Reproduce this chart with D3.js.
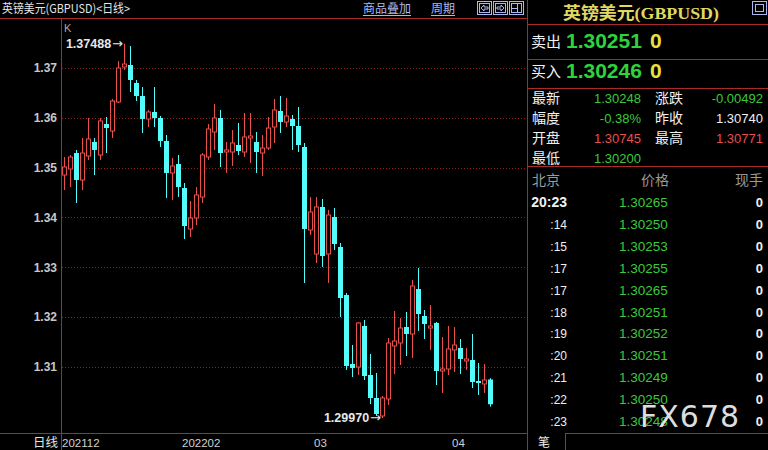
<!DOCTYPE html>
<html><head><meta charset="utf-8">
<script src="https://cdn.jsdelivr.net/npm/d3@7"></script>
<style>html,body{margin:0;padding:0;background:#000;overflow:hidden}svg{display:block}</style>
</head><body>
<svg id="c" width="768" height="450"></svg>
<script>
// ---------- data ----------
const opens = [1.34851,1.34972,1.35293,1.34751,1.35233,1.35514,1.35253,1.35876,1.35735,1.36317,
1.37020,1.37060,1.36699,1.36438,1.35976,1.36117,1.35996,1.35534,1.34892,1.35072,
1.34590,1.33767,1.33988,1.34410,1.35213,1.35715,1.35996,1.35313,1.35313,1.35454,
1.35313,1.35594,1.35514,1.35293,1.35394,1.35815,1.36137,1.35916,1.35976,1.35835,
1.35414,1.33747,1.33265,1.34209,1.33265,1.34008,1.33406,1.32442,1.31056,1.30996,
1.31819,1.30835,1.30374,1.30012,1.30354,1.31418,1.31478,1.31799,1.31659,1.32562,
1.32020,1.31779,1.31880,1.30916,1.30956,1.31338,1.31378,1.31117,1.31137,1.30715,
1.30655,1.30745];
const highs = [1.35213,1.35253,1.35354,1.35594,1.35996,1.35594,1.35996,1.36016,1.36378,1.37141,
1.37488,1.37442,1.36759,1.36618,1.36157,1.36618,1.36036,1.35655,1.35193,1.35253,
1.34691,1.34329,1.34610,1.35293,1.35876,1.36277,1.36157,1.35514,1.35755,1.35896,
1.36096,1.36096,1.35715,1.35655,1.36016,1.36378,1.36438,1.36398,1.36056,1.36217,
1.35494,1.34410,1.34410,1.34370,1.34149,1.34189,1.33486,1.32482,1.31438,1.31900,
1.31940,1.31257,1.30876,1.30414,1.31578,1.32121,1.31980,1.32101,1.32743,1.32984,
1.32141,1.32241,1.31900,1.31598,1.31819,1.31799,1.31558,1.31378,1.31659,1.31076,
1.31056,1.30771];
const lows = [1.34550,1.34610,1.34289,1.34550,1.35153,1.34851,1.35153,1.35293,1.35594,1.36297,
1.36960,1.36518,1.36337,1.35695,1.35815,1.35815,1.35414,1.34390,1.34350,1.34410,
1.33566,1.33606,1.33847,1.34289,1.35153,1.35354,1.35012,1.34892,1.35032,1.35253,
1.35213,1.35092,1.34892,1.34831,1.35354,1.35494,1.35695,1.35815,1.35354,1.35313,
1.32683,1.33647,1.33084,1.33004,1.32683,1.33346,1.32000,1.30936,1.30795,1.30835,
1.30735,1.30253,1.30012,1.29970,1.30233,1.30855,1.31036,1.31217,1.31177,1.31719,
1.31558,1.31338,1.30634,1.30474,1.30835,1.30896,1.30855,1.30936,1.30574,1.30434,
1.30474,1.30200];
const closes = [1.35012,1.35213,1.34751,1.35293,1.35574,1.35354,1.35936,1.35795,1.36337,1.37000,
1.37080,1.36759,1.36438,1.35976,1.36117,1.35996,1.35534,1.34892,1.35032,1.34610,
1.33827,1.33988,1.34450,1.35253,1.35775,1.35996,1.35293,1.35354,1.35494,1.35333,
1.35614,1.35635,1.35313,1.35394,1.35795,1.36157,1.35916,1.36036,1.35835,1.35454,
1.33767,1.34108,1.34209,1.33225,1.34048,1.33466,1.32382,1.31016,1.30976,1.31880,
1.30815,1.30374,1.30052,1.30374,1.31478,1.31518,1.31779,1.31659,1.32623,1.32060,
1.31860,1.31819,1.30916,1.30956,1.31358,1.31438,1.31157,1.31157,1.30695,1.30675,
1.30735,1.30248];
const yTicks = [1.31,1.32,1.33,1.34,1.35,1.36,1.37];
const monthLabels = ["202112","202202","03","04"];
const monthIndex = [0,20,42,65];

const sellPrice = "1.30251", buyPrice = "1.30246";
const quoteLeftLabels = ["最新","幅度","开盘","最低"];
const quoteLeftValues = ["1.30248","-0.38%","1.30745","1.30200"];
const quoteLeftKinds = ["down","down","up","down"];
const quoteRightLabels = ["涨跌","昨收","最高"];
const quoteRightValues = ["-0.00492","1.30740","1.30771"];
const quoteRightKinds = ["down","flat","up"];
const tickTimes = ["20:23",":14",":15",":17",":17",":18",":19",":20",":21",":22",":23"];
const tickPrices = ["1.30265","1.30250","1.30253","1.30255","1.30265","1.30251","1.30252","1.30251","1.30249","1.30250","1.30248"];
const tickVols = ["0","0","0","0","0","0","0","0","0","0","0"];

// ---------- styles ----------
const RED = "#e8504c", CYAN = "#54fcfc", BORDER = "#a82a2a", GRID = "#8a2222";
const GREEN = "#3cc83c", BIGGREEN = "#2ed23a", YELLOW = "#e8e040", LINK = "#aab8f0";
const CJK = "'Noto Sans CJK SC','Noto Sans',sans-serif";
const NUM = "'Liberation Sans',Arial,sans-serif";

const svg = d3.select("#c");
svg.append("rect").attr("width",768).attr("height",450).attr("fill","#000");

const n = opens.length;
const x = d3.scaleLinear().domain([0, n-1]).range([64, 490]);
const y = d3.scaleLinear().domain([1.30, 1.37]).range([416.6, 68]);

// gridlines
svg.append("g").selectAll("line").data(yTicks).join("line")
  .attr("x1",62).attr("x2",527)
  .attr("y1",d=>Math.round(y(d))+0.5).attr("y2",d=>Math.round(y(d))+0.5)
  .attr("stroke",GRID).attr("stroke-dasharray","1,2");

// y axis labels via d3 axis
const yAxis = d3.axisLeft(y).tickValues(yTicks).tickFormat(d3.format(".2f")).tickSize(0).tickPadding(4);
const ya = svg.append("g").attr("transform","translate(61,0)").call(yAxis);
ya.select(".domain").remove();
ya.selectAll("text").attr("fill","#c8c8c8").attr("font-family",NUM).attr("font-weight","bold").attr("font-size",12);

// frame lines
svg.append("line").attr("x1",0).attr("x2",527).attr("y1",18.5).attr("y2",18.5).attr("stroke",BORDER);
svg.append("line").attr("x1",0).attr("x2",527).attr("y1",433.5).attr("y2",433.5).attr("stroke",BORDER);
svg.append("line").attr("x1",61.5).attr("x2",61.5).attr("y1",18).attr("y2",450).attr("stroke",BORDER);
svg.append("line").attr("x1",527.5).attr("x2",527.5).attr("y1",0).attr("y2",450).attr("stroke",BORDER);

// candles
const idx = d3.range(n);
const cs = svg.append("g").selectAll("g").data(idx).join("g");
cs.append("line")
  .attr("x1",i=>Math.round(x(i))+0.5).attr("x2",i=>Math.round(x(i))+0.5)
  .attr("y1",i=>y(highs[i])).attr("y2",i=>y(lows[i]))
  .attr("stroke",i=>closes[i]>=opens[i]?RED:CYAN);
cs.append("rect")
  .attr("x",i=>closes[i]>=opens[i]?Math.round(x(i))-2+0.5:Math.round(x(i))-2)
  .attr("width",i=>closes[i]>=opens[i]?4:5)
  .attr("y",i=>y(Math.max(opens[i],closes[i])))
  .attr("height",i=>Math.max(1,Math.abs(y(opens[i])-y(closes[i]))))
  .attr("fill",i=>closes[i]>=opens[i]?"#000":CYAN)
  .attr("stroke",i=>closes[i]>=opens[i]?RED:"none");

// high / low annotations
const iMax = d3.maxIndex(highs), iMin = d3.minIndex(lows);
function annot(i, val){
  const t = svg.append("text").attr("x",x(i)-1).attr("y",y(val)+4)
    .attr("text-anchor","end").attr("fill","#e8e8e8").attr("font-family",NUM)
    .attr("font-size",12.5).attr("font-weight","bold");
  t.append("tspan").text(d3.format(".5f")(val));
  t.append("tspan").attr("font-weight","normal").attr("font-family","'DejaVu Sans'").attr("font-size",13).attr("dx",1).text("→");
}
annot(iMax, highs[iMax]);
annot(iMin, lows[iMin]);

svg.append("text").attr("x",64).attr("y",32).attr("fill","#a8a8a8").attr("font-family",NUM).attr("font-size",11).text("K");

// x labels
svg.selectAll("text.mon").data(monthLabels).join("text").attr("class","mon")
  .attr("x",(d,i)=>x(monthIndex[i])-2).attr("y",447)
  .attr("fill","#d0d0d0").attr("font-family",NUM).attr("font-size",11.5).text(d=>d);
svg.append("text").attr("x",33).attr("y",447).attr("fill","#e0e0e0").attr("font-family",CJK).attr("font-size",12.5).text("日线");

// top-left title
svg.append("text").attr("x",2).attr("y",13).attr("fill","#e6e6e6").attr("font-family",CJK).attr("font-size",12)
  .attr("textLength",128).attr("lengthAdjust","spacingAndGlyphs").text("英镑美元(GBPUSD)<日线>");
[["商品叠加",363,48],["周期",431,24]].forEach(([t,xx,w])=>{
  svg.append("text").attr("x",xx).attr("y",13).attr("fill",LINK).attr("font-family",CJK).attr("font-size",12).text(t);
  svg.append("line").attr("x1",xx).attr("x2",xx+w).attr("y1",15.5).attr("y2",15.5).attr("stroke",LINK);
});
// toolbar icons
[477,493,509].forEach((xx,k)=>{
  svg.append("rect").attr("x",xx+0.5).attr("y",1.5).attr("width",14).attr("height",13).attr("fill","none").attr("stroke",LINK);
  svg.append("rect").attr("x",xx+2.5).attr("y",3.5).attr("width",10).attr("height",9).attr("fill","none").attr("stroke",LINK);
  if(k===0) svg.append("path").attr("d",`M${xx+4},8 L${xx+7},5 L${xx+7},7 L${xx+11},7 L${xx+11},9 L${xx+7},9 L${xx+7},11 Z`).attr("fill","none").attr("stroke",LINK);
  if(k===1) svg.append("path").attr("d",`M${xx+11},8 L${xx+8},5 L${xx+8},7 L${xx+4},7 L${xx+4},9 L${xx+8},9 L${xx+8},11 Z`).attr("fill","none").attr("stroke",LINK);
  if(k===2){ svg.append("line").attr("x1",xx+8.5).attr("x2",xx+8.5).attr("y1",3).attr("y2",13).attr("stroke",LINK);
    svg.append("line").attr("x1",xx+3).attr("x2",xx+8).attr("y1",8.5).attr("y2",8.5).attr("stroke",LINK);}
});

// ---------- right panel ----------
svg.append("text").attr("x",641).attr("y",19).attr("text-anchor","middle").attr("fill","#e0d860")
  .attr("font-family","'Liberation Serif','Noto Sans CJK SC',serif").attr("font-weight","bold").attr("font-size",17)
  .attr("textLength",156).attr("lengthAdjust","spacingAndGlyphs")
  .text("英镑美元(GBPUSD)");
svg.append("rect").attr("x",752.5).attr("y",1.5).attr("width",14).attr("height",13).attr("fill","none").attr("stroke",LINK);
svg.append("rect").attr("x",755.5).attr("y",4.5).attr("width",8).attr("height",7).attr("fill","none").attr("stroke",LINK);

[24.5,59.5,88.5,166.5].forEach(yy=>svg.append("line").attr("x1",528).attr("x2",768).attr("y1",yy).attr("y2",yy).attr("stroke",BORDER));

[["卖出",sellPrice,48],["买入",buyPrice,78]].forEach(([lab,val,yy])=>{
  svg.append("text").attr("x",531).attr("y",yy-1).attr("fill","#f0f0f0").attr("font-family",CJK).attr("font-size",15).text(lab);
  svg.append("text").attr("x",566).attr("y",yy).attr("fill",BIGGREEN).attr("font-family",NUM).attr("font-weight","bold").attr("font-size",21).text(val);
  svg.append("text").attr("x",650).attr("y",yy).attr("fill",YELLOW).attr("font-family",NUM).attr("font-weight","bold").attr("font-size",21).text("0");
});

const kindColor = k => k==="up"?RED:(k==="down"?GREEN:"#f0f0f0");
const rowY = [103,123,143,163];
quoteLeftLabels.forEach((lab,i)=>{
  svg.append("text").attr("x",532).attr("y",rowY[i]).attr("fill","#f0f0f0").attr("font-family",CJK).attr("font-size",14).text(lab);
  svg.append("text").attr("x",641).attr("y",rowY[i]).attr("text-anchor","end").attr("fill",kindColor(quoteLeftKinds[i]))
    .attr("font-family",NUM).attr("font-size",13).text(quoteLeftValues[i]);
});
quoteRightLabels.forEach((lab,i)=>{
  svg.append("text").attr("x",655).attr("y",rowY[i]).attr("fill","#f0f0f0").attr("font-family",CJK).attr("font-size",14).text(lab);
  svg.append("text").attr("x",763).attr("y",rowY[i]).attr("text-anchor","end").attr("fill",kindColor(quoteRightKinds[i]))
    .attr("font-family",NUM).attr("font-size",13).text(quoteRightValues[i]);
});

svg.append("text").attr("x",532).attr("y",185).attr("fill","#9a9a9a").attr("font-family",CJK).attr("font-size",14).text("北京");
svg.append("text").attr("x",655).attr("y",185).attr("text-anchor","middle").attr("fill","#9a9a9a").attr("font-family",CJK).attr("font-size",14).text("价格");
svg.append("text").attr("x",763).attr("y",185).attr("text-anchor","end").attr("fill","#9a9a9a").attr("font-family",CJK).attr("font-size",14).text("现手");

tickTimes.forEach((t,i)=>{
  const yy = 207 + i*21.9;
  svg.append("text").attr("x",567).attr("y",yy).attr("text-anchor","end").attr("fill","#f0f0f0")
    .attr("font-family",NUM).attr("font-size",i===0?14:12).attr("font-weight",i===0?"bold":"normal").text(t);
  svg.append("text").attr("x",619).attr("y",yy).attr("fill",GREEN).attr("font-family",NUM).attr("font-size",13.5).text(tickPrices[i]);
  svg.append("text").attr("x",763).attr("y",yy).attr("text-anchor","end").attr("fill","#f0f0f0").attr("font-family",NUM).attr("font-weight","bold").attr("font-size",13).text(tickVols[i]);
});

// bottom tab
svg.append("line").attr("x1",565).attr("x2",768).attr("y1",433.5).attr("y2",433.5).attr("stroke",BORDER);
svg.append("line").attr("x1",565.5).attr("x2",565.5).attr("y1",433).attr("y2",450).attr("stroke",BORDER);
svg.append("text").attr("x",538).attr("y",447).attr("fill","#f0f0f0").attr("font-family",CJK).attr("font-size",12).text("笔");

// watermark
svg.append("text").attr("x",640).attr("y",427).attr("fill","#f4f4f4").attr("fill-opacity",0.92)
  .attr("font-family","'DejaVu Sans',sans-serif").attr("font-size",30).attr("letter-spacing",1).text("FX678");
</script>
</body></html>
